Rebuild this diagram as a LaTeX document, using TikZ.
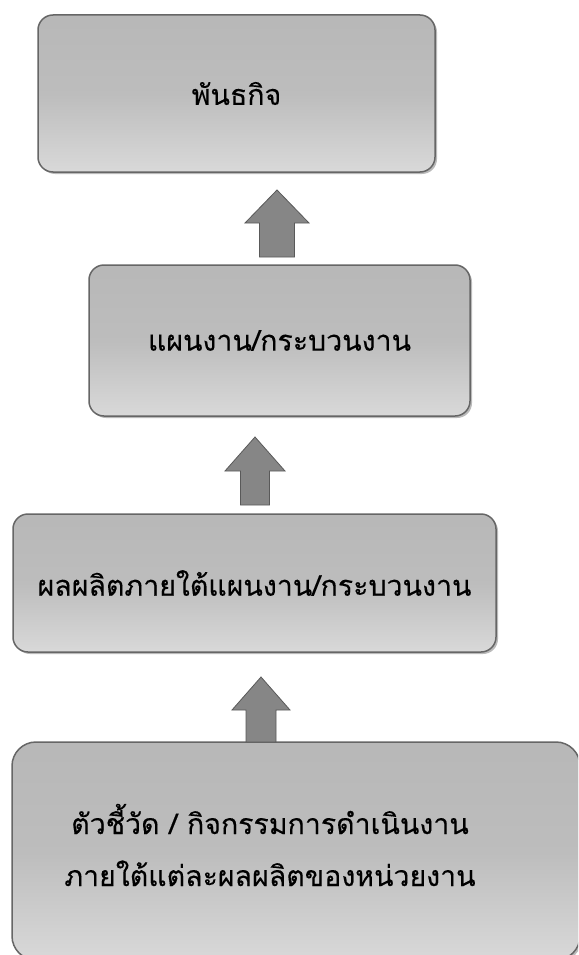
\documentclass[tikz,border=0pt]{standalone}
\usepackage{fontspec}
\newfontfamily\thaifont[Script=Thai,FakeBold=0.25]{Loma}
\usetikzlibrary{shadows}
\tikzset{
  box/.style={draw=black!60, line width=1.5pt, rounded corners=15pt,
    top color=gray!56, bottom color=gray!30, middle color=gray!52,
    drop shadow={shadow xshift=2pt, shadow yshift=-2pt, fill=black!45, opacity=0.6},
    font=\thaifont\fontsize{28.5}{52}\selectfont, align=center, inner sep=0pt},
  blockarrow/.style={fill=gray!95, draw=black!65, line width=0.8pt, line join=miter},
  lbl/.style={font=\thaifont\fontsize{28.5}{52}\selectfont, align=center, inner sep=0pt}
}
\begin{document}
\begin{tikzpicture}[x=1pt,y=-1pt]
\useasboundingbox (0,0) rectangle (578,955);
\clip (0,0) rectangle (578,955);
\fill[white] (0,0) rectangle (578,955);
% boxes
\node[box, minimum width=397pt, minimum height=157pt] (b1) at (236.5,93.5) {พันธกิจ};
\node[box, minimum width=381pt, minimum height=151pt] (b2) at (279.5,340.5) {แผนงาน/กระบวนงาน};
\node[box, minimum width=483pt, minimum height=138pt] (b3) at (254.5,583) {ผลผลิตภายใต้แผนงาน/กระบวนงาน};
\node[box, rounded corners=24pt, minimum width=568pt, minimum height=218pt] (b4) at (296,851) {};
\node[lbl] (t4) at (270,845) {ตัวชี้วัด / กิจกรรมการดำเนินงาน\\ภายใต้แต่ละผลผลิตของหน่วยงาน};
% block arrows
\newcommand{\uparr}[6]{% cx, tip, headbase, bottom, halfhead, halfshaft
  \draw[blockarrow] (#1-#6,#4) -- (#1-#6,#3) -- (#1-#5,#3) -- (#1,#2)
     -- (#1+#5,#3) -- (#1+#6,#3) -- (#1+#6,#4) -- cycle;}
\uparr{277}{190}{223}{257}{32}{17.5}
\uparr{255}{437}{471}{505}{30}{14.5}
\uparr{261}{677}{710}{742}{29}{15}
\end{tikzpicture}
\end{document}
